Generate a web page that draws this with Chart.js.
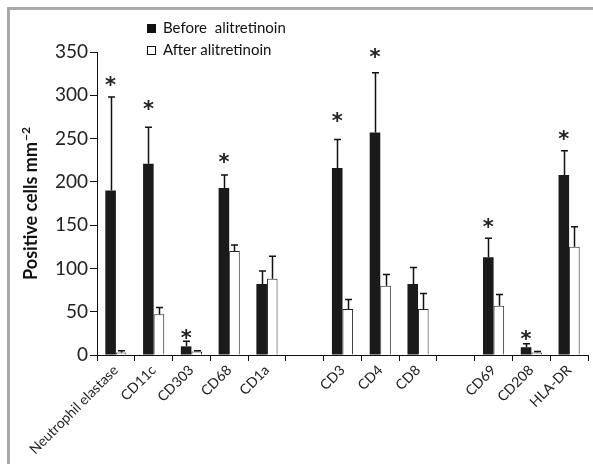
<!DOCTYPE html>
<html lang="en">
<head>
<meta charset="UTF-8">
<title>Positive cells before and after alitretinoin</title>
<script src="https://cdn.jsdelivr.net/npm/chart.js@4.4.1/dist/chart.umd.min.js"></script>
<style>
  html, body { margin: 0; padding: 0; background: #fff; }
</style>
</head>
<body>
<canvas id="myChart" width="593" height="464"></canvas>
<script>
// categories, empty strings are the gaps between marker groups
const labels = ['Neutrophil elastase', 'CD11c', 'CD303', 'CD68', 'CD1a', '', 'CD3', 'CD4', 'CD8', '', 'CD69', 'CD208', 'HLA-DR'];
const before = [190, 221, 10, 193, 82, null, 216, 257, 82, null, 113, 9, 208];
const beforeErr = [108, 42, 6, 15, 15, null, 33, 69, 19, null, 22, 4, 28];
const after = [3, 47, 4, 120, 88, null, 53, 80, 53, null, 57, 3, 125];
const afterErr = [2, 8, 1, 7, 26, null, 11, 13, 18, null, 13, 1, 23];
// where the significance star sits (y value)
const stars = [317, 289, 24, 228, null, null, 275, 349, null, null, 153, 23, 254];
const yTicks = [0, 50, 100, 150, 200, 250, 300, 350];

const FONT = 'Lato, "Open Sans", sans-serif';

// gray frame like the figure box
const framePlugin = {
  id: 'frame',
  beforeDraw(chart) {
    const ctx = chart.ctx;
    ctx.save();
    ctx.fillStyle = '#fff';
    ctx.fillRect(0, 0, chart.width, chart.height);
    ctx.strokeStyle = '#a9a9a9';
    ctx.lineWidth = 3;
    ctx.beginPath();
    ctx.moveTo(8.5, chart.height);
    ctx.lineTo(8.5, 8.5);
    ctx.lineTo(chart.width, 8.5);
    ctx.stroke();
    ctx.restore();
  }
};

// error bars (upper only) + stars
const errPlugin = {
  id: 'errbars',
  afterDatasetsDraw(chart) {
    const ctx = chart.ctx;
    const y = chart.scales.y;
    const errs = [beforeErr, afterErr];
    ctx.save();
    ctx.strokeStyle = '#111';
    ctx.lineWidth = 1.5;
    chart.data.datasets.forEach((ds, di) => {
      const meta = chart.getDatasetMeta(di);
      meta.data.forEach((bar, i) => {
        const v = ds.data[i];
        if (v == null) return;
        const top = y.getPixelForValue(v + errs[di][i]);
        const x = Math.round(bar.x) + 0.5;
        ctx.beginPath();
        ctx.moveTo(x, bar.y);
        ctx.lineTo(x, top);
        ctx.moveTo(x - 3.5, top);
        ctx.lineTo(x + 3.5, top);
        ctx.stroke();
      });
    });
    // stars above the "before" bars
    const meta0 = chart.getDatasetMeta(0);
    ctx.fillStyle = '#222';
    ctx.font = 'bold 21px "DejaVu Sans", sans-serif';
    ctx.textAlign = 'center';
    ctx.textBaseline = 'alphabetic';
    const m = ctx.measureText('*');
    const off = (m.actualBoundingBoxAscent - m.actualBoundingBoxDescent) / 2;
    stars.forEach((s, i) => {
      if (s == null) return;
      ctx.fillText('*', meta0.data[i].x, y.getPixelForValue(s) + off);
    });
    ctx.restore();
  }
};

// legend + y axis title drawn by hand
const textPlugin = {
  id: 'texts',
  afterDraw(chart) {
    const ctx = chart.ctx;
    ctx.save();
    // legend
    ctx.fillStyle = '#111';
    ctx.fillRect(147, 24, 9, 9);
    ctx.strokeStyle = '#111';
    ctx.lineWidth = 1;
    ctx.strokeRect(147.5, 46.5, 8, 8);
    ctx.font = '15px ' + FONT;
    ctx.textBaseline = 'middle';
    ctx.textAlign = 'left';
    ctx.fillStyle = '#111';
    ctx.fillText('Before  alitretinoin', 163, 28.5);
    ctx.fillText('After alitretinoin', 163, 50.5);

    // y title with superscript
    const main = 'Positive cells mm';
    const sup = '\u22122';
    ctx.font = 'bold 18px ' + FONT;
    const w1 = ctx.measureText(main).width;
    ctx.font = 'bold 12px ' + FONT;
    const w2 = ctx.measureText(sup).width;
    ctx.translate(37, 204);
    ctx.rotate(-Math.PI / 2);
    ctx.textBaseline = 'alphabetic';
    const x0 = -(w1 + w2) / 2;
    ctx.font = 'bold 18px ' + FONT;
    ctx.fillStyle = '#111';
    ctx.fillText(main, x0, 0);
    ctx.font = 'bold 12px ' + FONT;
    ctx.fillText(sup, x0 + w1 + 1, -7);
    ctx.restore();
  }
};

const ctx = document.getElementById('myChart').getContext('2d');
const myChart = new Chart(ctx, {
  type: 'bar',
  data: {
    labels: labels,
    datasets: [{
      label: 'Before  alitretinoin',
      data: before,
      backgroundColor: '#1a1a1a',
      borderColor: '#1a1a1a',
      borderWidth: 0
    }, {
      label: 'After alitretinoin',
      data: after,
      backgroundColor: '#ffffff',
      borderColor: '#222',
      borderWidth: 1
    }]
  },
  options: {
    responsive: false,
    devicePixelRatio: 1,
    animation: false,
    layout: { padding: { top: 52, right: 5, left: 0, bottom: 0 } },
    datasets: { bar: { categoryPercentage: 0.56, barPercentage: 1 } },
    plugins: {
      legend: { display: false },
      tooltip: { enabled: false }
    },
    scales: {
      x: {
        offset: true,
        grid: { drawOnChartArea: false, tickLength: 6, color: '#111', offset: true },
        border: { color: '#111', width: 1 },
        ticks: {
          color: '#222',
          font: { family: FONT, size: 14 },
          minRotation: 45,
          maxRotation: 45,
          autoSkip: false,
          padding: 1
        },
        afterFit(scale) { scale.height = 109; }
      },
      y: {
        min: 0,
        max: 350,
        afterBuildTicks(scale) { scale.ticks = yTicks.map(v => ({ value: v })); },
        grid: { drawOnChartArea: false, tickLength: 7, color: '#111' },
        border: { color: '#111', width: 1 },
        ticks: {
          color: '#222',
          font: { family: FONT, size: 19 },
          padding: 2
        },
        afterFit(scale) { scale.width = 97; }
      }
    }
  },
  plugins: [framePlugin, errPlugin, textPlugin]
});
</script>
</body>
</html>
